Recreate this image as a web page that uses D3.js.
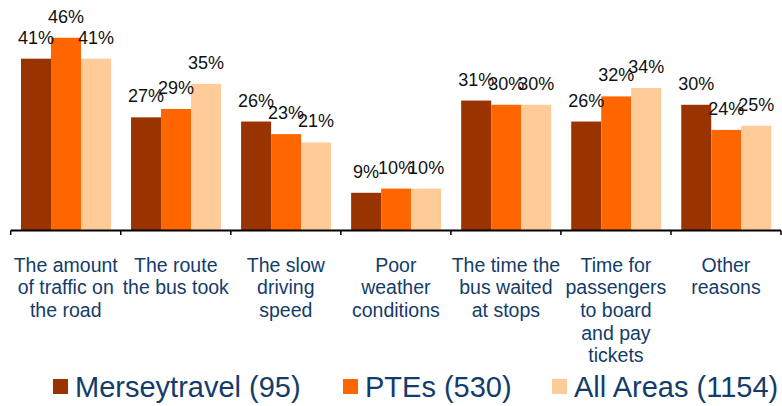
<!DOCTYPE html>
<html>
<head>
<meta charset="utf-8">
<script src="https://cdn.jsdelivr.net/npm/d3@7"></script>
<style>
  body { margin: 0; background: #fff; }
  text { font-family: Arial, "Liberation Sans", sans-serif; }
</style>
</head>
<body>
<script>
const width = 782, height = 406;

// chart data
const categories = [
    ["The amount", "of traffic on", "the road"],
    ["The route", "the bus took"],
    ["The slow", "driving", "speed"],
    ["Poor", "weather", "conditions"],
    ["The time the", "bus waited", "at stops"],
    ["Time for", "passengers", "to board", "and pay", "tickets"],
    ["Other", "reasons"]
];
const seriesNames = ["Merseytravel (95)", "PTEs (530)", "All Areas (1154)"];
const merseytravel = [41, 27, 26, 9, 31, 26, 30];
const ptes = [46, 29, 23, 10, 30, 32, 24];
const allAreas = [41, 35, 21, 10, 30, 34, 25];
const colors = ["#993300", "#FF6600", "#FFCC99"];

const series = [merseytravel, ptes, allAreas];
const keys = d3.range(categories.length);
const textBlue = "#143C6A";

let svg = d3.select("body")
            .append("svg")
            .attr("width", width)
            .attr("height", height);

// one band per category (ticks sit on band edges)
let xBand = d3.scaleBand()
    .domain(keys)
    .range([10.7, 781]);

// bars inside each band
let xInner = d3.scaleBand()
    .domain(d3.range(series.length))
    .range([0, 90]);

let yScale = d3.scaleLinear()
    .domain([0, 55])
    .range([230.5, 0]);

// bars
series.forEach((vals, s) => {
    svg.append("g")
        .selectAll("rect")
        .data(vals)
        .enter()
        .append("rect")
        .attr("x", (d, i) => xBand(i) + 10.3 + xInner(s))
        .attr("y", d => yScale(d))
        .attr("width", xInner.bandwidth())
        .attr("height", d => yScale(0) - yScale(d))
        .attr("fill", colors[s]);
});

// value labels
series.forEach((vals, s) => {
    svg.append("g")
        .selectAll("text")
        .data(vals)
        .enter()
        .append("text")
        .attr("x", (d, i) => xBand(i) + 10.3 + xInner(s) + xInner.bandwidth() / 2)
        .attr("y", d => yScale(d) - 15)
        .attr("text-anchor", "middle")
        .attr("font-size", "18px")
        .attr("fill", "#111")
        .text(d => d + "%");
});

// x axis line with ticks at the category boundaries
svg.append("line")
    .attr("x1", 10.7).attr("x2", 781)
    .attr("y1", 230.5).attr("y2", 230.5)
    .attr("stroke", "black").attr("stroke-width", 2);

svg.append("g")
    .selectAll("line")
    .data(d3.range(categories.length + 1))
    .enter()
    .append("line")
    .attr("x1", i => 10.7 + i * xBand.step())
    .attr("x2", i => 10.7 + i * xBand.step())
    .attr("y1", 230.5).attr("y2", 235)
    .attr("stroke", "black").attr("stroke-width", 1.5);

// category labels
let catLabels = svg.append("g")
    .selectAll("text")
    .data(categories)
    .enter()
    .append("text")
    .attr("text-anchor", "middle")
    .attr("font-size", "19.5px")
    .attr("fill", textBlue);

catLabels.selectAll("tspan")
    .data((d, i) => d.map(line => ({line: line, i: i})))
    .enter()
    .append("tspan")
    .attr("x", d => xBand(d.i) + xBand.bandwidth() / 2)
    .attr("y", (d, j) => 271.5 + j * 22.7)
    .text(d => d.line);

// legend
const legendX = [53, 343, 552];
let legend = svg.append("g");
seriesNames.forEach((name, s) => {
    legend.append("rect")
        .attr("x", legendX[s]).attr("y", 379)
        .attr("width", 15).attr("height", 15)
        .attr("fill", colors[s]);
    legend.append("text")
        .attr("x", legendX[s] + 22)
        .attr("y", 397)
        .attr("font-size", "29px")
        .attr("fill", textBlue)
        .text(name);
});
</script>
</body>
</html>
